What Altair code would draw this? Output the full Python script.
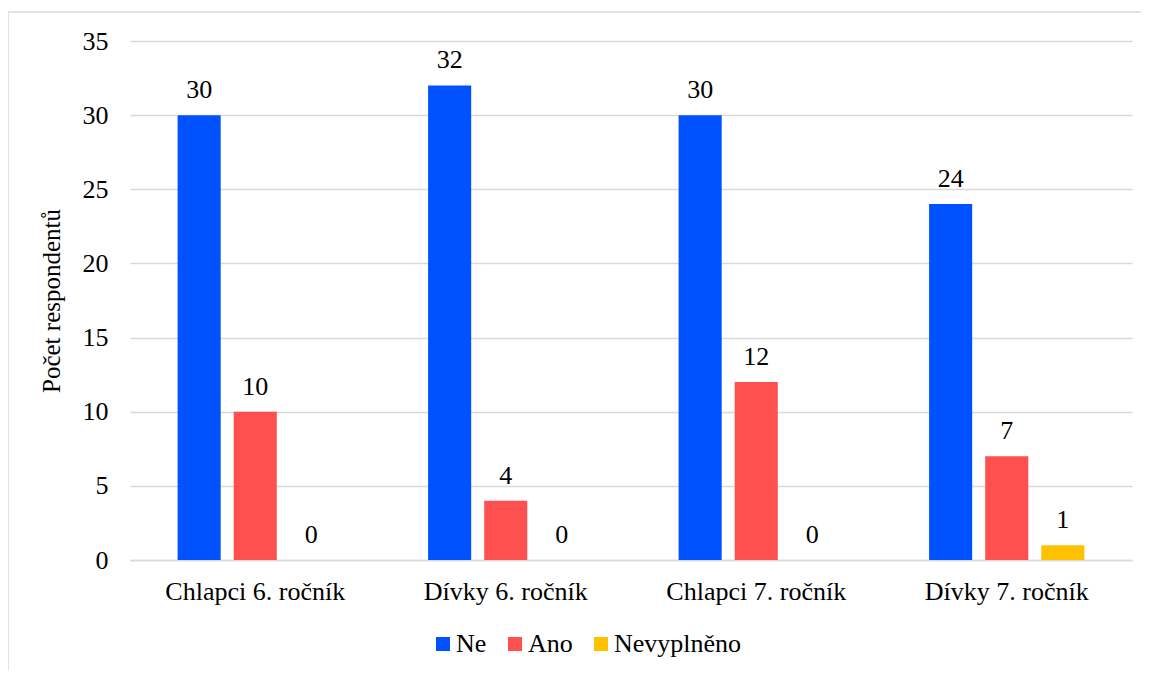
import altair as alt
import pandas as pd

categories = ["Chlapci 6. ročník", "Dívky 6. ročník", "Chlapci 7. ročník", "Dívky 7. ročník"]
series = ["Ne", "Ano", "Nevyplněno"]
ne_values = [30, 32, 30, 24]
ano_values = [10, 4, 12, 7]
nevyplneno_values = [0, 0, 0, 1]
colors = ["#0052FF", "#FF5050", "#FFC000"]
y_ticks = [0, 5, 10, 15, 20, 25, 30, 35]

rows = []
for s, vals in zip(series, [ne_values, ano_values, nevyplneno_values]):
    for c, v in zip(categories, vals):
        rows.append({"kategorie": c, "odpověď": s, "počet": v})
df = pd.DataFrame(rows)

FONT = "Liberation Serif"
W, H = 1002, 519

x_enc = alt.X("kategorie:N", sort=categories,
              scale=alt.Scale(paddingInner=0.38, paddingOuter=0.19),
              axis=alt.Axis(title=None, labelAngle=0, labelFontSize=26, labelFont=FONT,
                            labelColor="#000000", labelPadding=18, ticks=False, tickSize=0,
                            domainColor="#d9d9d9", domainWidth=1.5))
xoff_enc = alt.XOffset("odpověď:N", sort=series,
                       scale=alt.Scale(paddingInner=0.232, paddingOuter=0))
y_enc = alt.Y("počet:Q",
              scale=alt.Scale(domain=[0, 35], nice=False),
              axis=alt.Axis(title="Počet respondentů", values=y_ticks, labelFontSize=26,
                            labelFont=FONT, labelColor="#000000", labelPadding=22,
                            ticks=False, tickSize=0, domain=False,
                            gridColor="#d9d9d9", gridWidth=1.5,
                            titleFont=FONT, titleFontSize=25, titleFontWeight="normal",
                            titleColor="#000000", titlePadding=18))

base = alt.Chart(df)

bars = base.mark_bar().encode(
    x=x_enc,
    xOffset=xoff_enc,
    y=y_enc,
    color=alt.Color("odpověď:N", sort=series,
                    scale=alt.Scale(domain=series, range=colors),
                    legend=alt.Legend(title=None, orient="none", direction="horizontal",
                                      legendX=300, legendY=590,
                                      symbolType="square", symbolSize=196,
                                      symbolStrokeWidth=0, labelFont=FONT,
                                      labelFontSize=26, labelColor="#000000",
                                      labelOffset=0, columnPadding=15, padding=0)),
)

labels = base.mark_text(baseline="alphabetic", dy=-17, font=FONT, fontSize=26,
                        color="#000000").encode(
    x=alt.X("kategorie:N", sort=categories),
    xOffset=alt.XOffset("odpověď:N", sort=series),
    y=alt.Y("počet:Q"),
    text=alt.Text("počet:Q"),
)

frame = alt.Chart(pd.DataFrame({"f": [0]})).mark_rect(
    fill=None, stroke="#d9d9d9", strokeWidth=1.5
).encode(
    x=alt.value(-122), x2=alt.value(W + 40),
    y=alt.value(-29), y2=alt.value(H + 160),
)

chart = alt.layer(frame, bars, labels).properties(
    width=W, height=H,
    autosize=alt.AutoSizeParams(type="none"),
    padding={"left": 122, "top": 33, "right": 9, "bottom": 110},
).configure_view(stroke=None)

chart.save("out.html", embed_options={"renderer": "svg", "actions": False})
